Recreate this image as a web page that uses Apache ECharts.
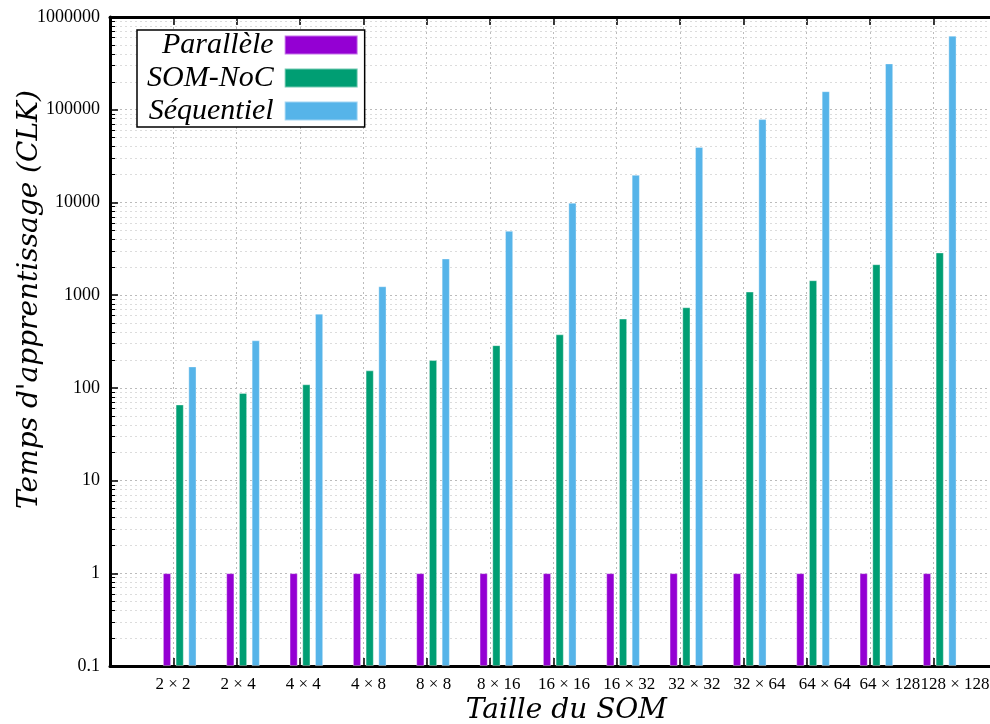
<!DOCTYPE html>
<html>
<head>
<meta charset="utf-8">
<script src="https://cdn.jsdelivr.net/npm/echarts@6/dist/echarts.min.js"></script>
<style>html,body{margin:0;padding:0;background:#fff;}#chart{width:990px;height:724px;}</style>
</head>
<body>
<div id="chart"></div>
<script>
const categories = ['2 × 2','2 × 4','4 × 4','4 × 8','8 × 8','8 × 16','16 × 16','16 × 32','32 × 32','32 × 64','64 × 64','64 × 128','128 × 128'];
const parallele = [1,1,1,1,1,1,1,1,1,1,1,1,1];
const somNoc = [66,88,109,154,199,288,377,557,738,1090,1445,2150,2880];
const sequentiel = [170,325,630,1245,2480,4930,9900,19800,39600,79000,158000,315000,628000];
const yTickLabels = ['0.1','1','10','100','1000','10000','100000','1000000'];
const seriesNames = ['Parallèle','SOM-NoC','Séquentiel'];
const colors = ['#9400D3','#009E73','#56B4E9'];

const pad = arr => ['-'].concat(arr, ['-']);
const axisCats = [''].concat(categories, ['']);
const titleFont = 'DejaVu Serif';
const tickFont = 'Liberation Serif';

// minor log positions (2..9 in each decade) for grid + ticks
const minorValues = [];
for (let e = -1; e < 6; e++) for (let m = 2; m <= 9; m++) minorValues.push(+(m * Math.pow(10, e)).toPrecision(3));

const chart = echarts.init(document.getElementById('chart'), null, {renderer:'canvas'});
const barCommon = {type:'bar', barWidth:8, barGap:'59%', xAxisIndex:0, yAxisIndex:0, z:3};
const barStyle = c => ({color:c, borderColor:'rgba(255,255,255,0.45)', borderWidth:0.8});
const option = {
  animation:false,
  backgroundColor:'#fff',
  grid:[
    {left:110, top:17, bottom:58, width:886.7, containLabel:false, outerBoundsMode:'none'},
    {left:107.8, top:17, bottom:58, width:912.4, containLabel:false, outerBoundsMode:'none'}
  ],
  legend:{
    data:seriesNames, orient:'vertical', align:'right', left:137, top:30,
    itemWidth:73, itemHeight:19, itemGap:3,
    borderColor:'#000', borderWidth:1.5, borderRadius:0, padding:[0,6,1,10],
    backgroundColor:'#fff', z:10,
    textStyle:{fontFamily:tickFont, fontStyle:'italic', fontSize:30, color:'#000', padding:[0,6,0,0]},
    icon:'rect'
  },
  xAxis:[{
    type:'category', data:axisCats, boundaryGap:false, position:'bottom', gridIndex:0,
    axisLine:{lineStyle:{color:'#000', width:3}},
    axisTick:{inside:true, length:8, lineStyle:{color:'#000', width:1.5}, interval:0},
    axisLabel:{show:false},
    splitLine:{show:true, interval:0, lineStyle:{color:'#bbb', type:[2,3], width:1}},
    name:'Taille du SOM', nameLocation:'middle', nameGap:31, nameMoveOverlap:false,
    nameTextStyle:{fontFamily:titleFont, fontStyle:'italic', fontSize:28, color:'#000', padding:[0,0,0,26]}
  },{
    type:'category', data:axisCats, boundaryGap:false, position:'top', gridIndex:0,
    axisLine:{lineStyle:{color:'#000', width:3}},
    axisTick:{inside:true, length:8, lineStyle:{color:'#000', width:1.5}, interval:0},
    axisLabel:{show:false}, splitLine:{show:false}
  },{
    type:'category', data:axisCats, boundaryGap:false, position:'bottom', gridIndex:1,
    axisLine:{show:false}, axisTick:{show:false}, splitLine:{show:false},
    axisLabel:{fontFamily:tickFont, fontSize:17, color:'#000', margin:10, interval:0}
  }],
  yAxis:[{
    type:'log', logBase:10, min:0.1, max:1000000, startValue:0.1, gridIndex:0,
    axisLine:{show:true, lineStyle:{color:'#000', width:3}},
    axisTick:{show:true, inside:true, length:8, lineStyle:{color:'#000', width:1.5}},
    splitLine:{show:true, lineStyle:{color:'#bbb', type:[2,3], width:1}},
    axisLabel:{fontFamily:tickFont, fontSize:18, color:'#000', margin:10,
      formatter:(v, i) => yTickLabels[i]},
    name:"Temps d'apprentissage (CLK)", nameLocation:'middle', nameGap:66, nameMoveOverlap:false,
    nameTextStyle:{fontFamily:titleFont, fontStyle:'italic', fontSize:28, color:'#000', padding:[0,0,0,84]}
  },{
    type:'value', gridIndex:1, show:false
  }],
  series:[
    {
      type:'line', name:'_minor', data:[], xAxisIndex:0, yAxisIndex:0, silent:true, z:1,
      markLine:{
        silent:true, symbol:'none', animation:false, label:{show:false}, z:1,
        data: minorValues.map(v => ({yAxis:v, lineStyle:{color:'#dcdcdc', type:[2,3], width:1}}))
          .concat(minorValues.map(v => [{x:110, yAxis:v, lineStyle:{color:'#000', type:'solid', width:1}}, {x:115, yAxis:v}]))
      }
    },
    Object.assign({name:'_spacer', data:pad(categories.map(() => '-')), itemStyle:{color:'transparent'}}, barCommon),
    Object.assign({name:seriesNames[0], data:pad(parallele), itemStyle:barStyle(colors[0])}, barCommon),
    Object.assign({name:seriesNames[1], data:pad(somNoc), itemStyle:barStyle(colors[1])}, barCommon),
    Object.assign({name:seriesNames[2], data:pad(sequentiel), itemStyle:barStyle(colors[2])}, barCommon)
  ]
};
chart.setOption(option);
</script>
</body>
</html>
